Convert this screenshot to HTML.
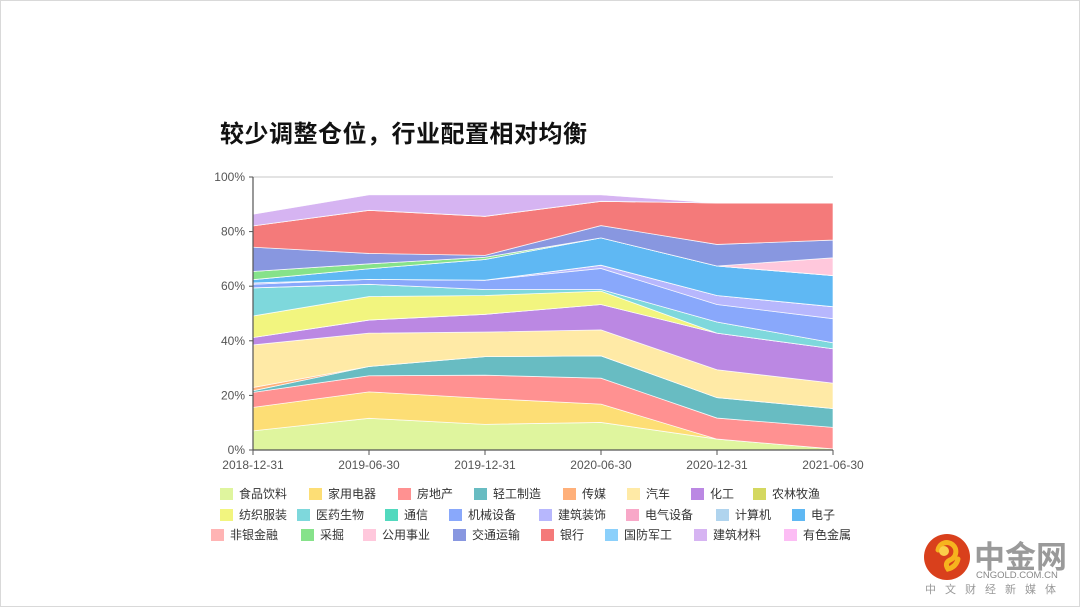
<!DOCTYPE html>
<html><head><meta charset="utf-8">
<style>
body{margin:0;width:1080px;height:607px;background:#fff;overflow:hidden;font-family:"Liberation Sans","Noto Sans CJK SC",sans-serif;position:relative}
#frame{position:absolute;left:0;top:0;width:1078px;height:605px;border:1px solid #d9d9d9}
#title{position:absolute;left:220px;top:114px;font-size:24px;font-weight:600;color:#111;letter-spacing:0.5px}
.lg{position:absolute;font-size:12px;color:#333;white-space:nowrap;display:flex;align-items:center}
.lg i{display:inline-block;width:13px;height:12px;margin-right:6px}
#logo{position:absolute;left:900px;top:520px;width:180px;height:87px}
</style></head><body>
<div id="frame"></div>
<div id="title">较少调整仓位，行业配置相对均衡</div>
<svg id="chart" width="1080" height="607" style="position:absolute;left:0;top:0"></svg>
<div id="legend"></div>
<div id="logo">
<svg width="180" height="87" style="position:absolute;left:0;top:0">
<circle cx="47" cy="37" r="23" fill="#d9401c"/>
<path d="M38,30 a9,9 0 1 1 12,10 q-6,3 -2,9 q8,-2 10,-10" fill="none" stroke="#f6b41e" stroke-width="5" stroke-linecap="round"/>
<circle cx="44" cy="31" r="5" fill="#fbd04a"/>
<text x="74" y="48" font-size="31" font-weight="bold" fill="#9a9a9a" font-family="Liberation Sans,Noto Sans CJK SC,sans-serif">中金网</text>
<text x="76" y="58" font-size="9.5" fill="#888" font-family="Liberation Sans,sans-serif">CNGOLD.COM.CN</text>
<text x="25" y="73" font-size="11" fill="#999" letter-spacing="9" font-family="Liberation Sans,Noto Sans CJK SC,sans-serif">中文财经新媒体</text>
</svg></div>
<script>
const dates=["2018-12-31","2019-06-30","2019-12-31","2020-06-30","2020-12-31","2021-06-30"];
const names=["食品饮料","家用电器","房地产","轻工制造","传媒","汽车","化工","农林牧渔","纺织服装","医药生物","通信","机械设备","建筑装饰","电气设备","计算机","电子","非银金融","采掘","公用事业","交通运输","银行","国防军工","建筑材料","有色金属"];
const colors=["#dff59e","#fdde75","#ff9191","#68bcc2","#ffb07a","#ffeaa6","#bb88e3","#d4d860","#f2f57f","#7ed8dc","#52d9be","#89a8fb","#b7b7fd","#f8a8c8","#b0d4ee","#5fb8f3","#ffb4b4","#86e28a","#ffc8dc","#8897e0","#f47a7a","#8bd0fb","#d6b4f2","#fcbdf4"];
const s_food=[7,11.6,9.4,10.1,4,0.4];
const s_appl=[8.6,9.7,9.5,6.7,0,0];
const s_real=[5.5,5.9,8.5,9.5,7.7,7.9];
const s_light=[0.6,3.4,6.8,8.2,7.5,6.9];
const s_media=[1.2,0,0,0,0,0];
const s_auto=[15.6,12.2,9,9.5,10.2,9.3];
const s_chem=[2.7,4.8,6.5,9.3,13.4,12.6];
const s_agri=[0,0,0,0,0,0];
const s_text=[7.9,8.6,6.9,4.9,0,0];
const s_med=[10.3,4.5,2.2,0.6,4.1,2.2];
const s_tel=[0,0,0,0,0,0];
const s_mach=[1.3,1.8,3.4,7.7,6.4,8.8];
const s_cons=[0.5,0,0,1.2,3.3,4.4];
const s_elec=[0,0,0,0,0,0];
const s_comp=[0,0,0,0,0,0];
const s_elecn=[1.2,3.9,7.6,10,10.8,11.4];
const s_fin=[0,0,0,0,0,0];
const s_mine=[3,1.8,0.8,0,0,0];
const s_util=[0,0,0,0,0,6.5];
const s_trans=[8.9,3.8,0.7,4.5,7.9,6.5];
const s_bank=[7.8,15.8,14.3,8.9,15.2,13.6];
const s_def=[0,0,0,0,0,0];
const s_mat=[4.3,5.7,7.9,2.4,0,0];
const s_metal=[0,0,0,0,0,0];
const series=[s_food,s_appl,s_real,s_light,s_media,s_auto,s_chem,s_agri,s_text,s_med,s_tel,s_mach,s_cons,s_elec,s_comp,s_elecn,s_fin,s_mine,s_util,s_trans,s_bank,s_def,s_mat,s_metal];
const yTicks=[0,20,40,60,80,100];
const X0=253,X1=833,Y0=450,Y1=177;
const xs=i=>X0+(X1-X0)*i/(dates.length-1);
const ys=v=>Y0-(Y0-Y1)*v/100;
const svg=document.getElementById('chart');const NS="http://www.w3.org/2000/svg";
function mk(t,a){const e=document.createElementNS(NS,t);for(const k in a)e.setAttribute(k,a[k]);svg.appendChild(e);return e;}
const gl=mk('line',{x1:X0,x2:X1,y1:ys(100),y2:ys(100),stroke:'#e3e3e3','stroke-width':2});


let base=dates.map(()=>0);
series.forEach((s,k)=>{
  const top=base.map((b,i)=>b+s[i]);
  let d='M'+top.map((v,i)=>xs(i)+','+ys(v)).join('L');
  for(let i=dates.length-1;i>=0;i--)d+='L'+xs(i)+','+ys(base[i]);
  d+='Z';
  const p=mk('path',{d:d,fill:colors[k],stroke:'#fff','stroke-width':0.8,'stroke-opacity':0.8});
  
  
  base=top;
});
const ax=mk('line',{x1:X0,x2:X0,y1:Y1,y2:Y0,stroke:'#555','stroke-width':1.2});


const bx=mk('line',{x1:X0,x2:X1,y1:Y0,y2:Y0,stroke:'#555','stroke-width':1.2});


yTicks.forEach(v=>{
  const t=mk('text',{x:X0-8,y:ys(v)+4,'text-anchor':'end','font-size':12,fill:'#555'});t.textContent=v+'%';
  
  
  mk('line',{x1:X0-4,x2:X0,y1:ys(v),y2:ys(v),stroke:'#555'});
});
dates.forEach((d,i)=>{
  const t=mk('text',{x:xs(i),y:Y0+19,'text-anchor':'middle','font-size':12,fill:'#555'});t.textContent=d;
  
  
  mk('line',{x1:xs(i),x2:xs(i),y1:Y0,y2:Y0+5,stroke:'#555'});
});
const lx=[[220,309,398,474,563,627,691,753],[220,297,385,449,539,626,716,792],[211,301,363,453,541,605,694,784]];
const ly=[492,513,533];
const lg=document.getElementById('legend');
names.forEach((n,k)=>{
  const r=Math.floor(k/8),c=k%8;
  const e=document.createElement('div');e.className='lg';
  e.style.left=lx[r][c]+'px';e.style.top=(ly[r]-7)+'px';
  e.innerHTML='<i style="background:'+colors[k]+'"></i>'+n;
  
  
  lg.appendChild(e);
});
</script>
</body></html>
